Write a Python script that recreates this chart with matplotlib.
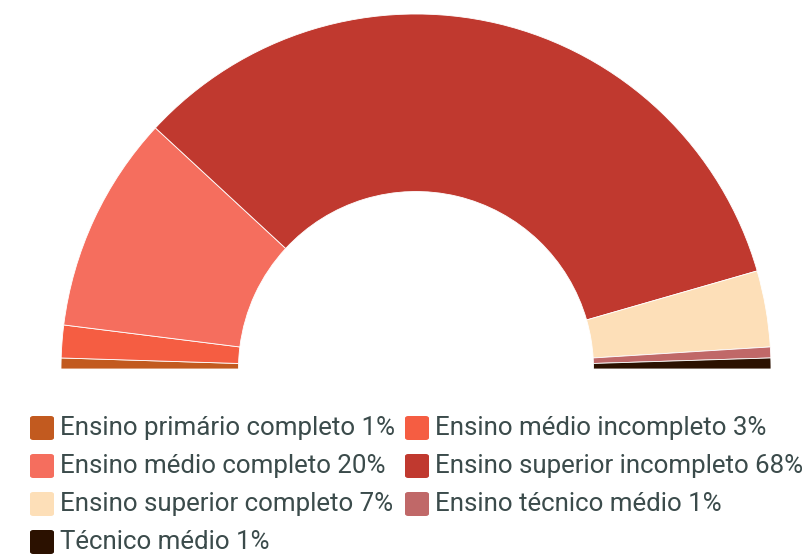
import matplotlib
matplotlib.use("Agg")
import matplotlib.pyplot as plt
from matplotlib.patches import FancyBboxPatch

plt.rcParams['font.family'] = ['Roboto', 'DejaVu Sans']

categories = ["Ensino primário completo", "Ensino médio incompleto", "Ensino médio completo",
              "Ensino superior incompleto", "Ensino superior completo", "Ensino técnico médio",
              "Técnico médio"]
values = [1, 3, 20, 68, 7, 1, 1]
colors = ['#c25a1f', '#f55d42', '#f56e5e', '#c0392f', '#fddfb8', '#c06868', '#2b1100']

W, H = 805, 555
fig = plt.figure(figsize=(W / 100, H / 100), dpi=100)
ax = fig.add_axes([0, 0, 1, 1])
cx, cy, R = 416, 369, 355

total = sum(values)
wedges, _ = ax.pie(values + [total], colors=colors + ['none'], startangle=180, counterclock=False,
                   radius=1, wedgeprops=dict(width=0.5, edgecolor='white', linewidth=0.6),
                   center=(0, 0), frame=True)
wedges[-1].set_visible(False)
ax.set_aspect('equal')
ax.set_xlim(-cx / R, (W - cx) / R)
ax.set_ylim(-(H - cy) / R, cy / R)
ax.axis('off')

col_x = [29, 404]
row_y0, row_dy = 428, 38
for i, (c, v, col) in enumerate(zip(categories, values, colors)):
    r, k = divmod(i, 2)
    x = col_x[k]
    y = row_y0 + r * row_dy
    box = FancyBboxPatch(((x + 1) / W, 1 - (y + 12) / H), 24 / W, 24 / H,
                         boxstyle="round,pad=0,rounding_size=0.004",
                         transform=fig.transFigure, facecolor=col, edgecolor='none')
    fig.patches.append(box)
    fig.text((x + 31) / W, 1 - y / H, f"{c} {v}%", fontsize=18.6, color='#3b4b4b',
             va='center', ha='left')

fig.savefig("out.png", dpi=100)
